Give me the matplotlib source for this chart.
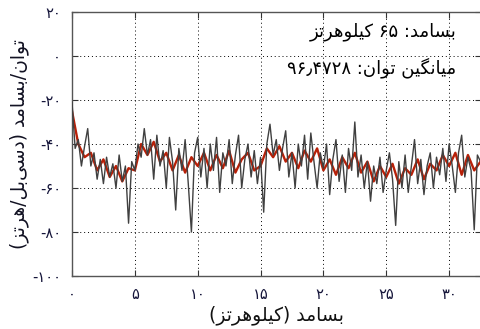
import numpy as np
import matplotlib
matplotlib.use("Agg")
import matplotlib.pyplot as plt

# ---------------- data ----------------
power_db = [
    -21, -42, -38, -50, -41, -33, -50, -44, -56, -47, -58, -46, -55, -49, -60, -45,
    -57, -50, -76, -48, -52, -40, -46, -33, -45, -38, -56, -36, -50, -43, -60, -37,
    -48, -70, -42, -52, -38, -58, -80, -44, -37, -55, -42, -60, -40, -52, -37, -62,
    -44, -50, -38, -58, -45, -36, -60, -47, -40, -55, -43, -58, -46, -71, -40, -31,
    -45, -38, -52, -42, -34, -55, -44, -60, -40, -50, -36, -56, -35, -48, -60, -44,
    -51, -40, -63, -47, -38, -57, -45, -62, -42, -52, -30, -55, -45, -60, -48, -66,
    -50, -58, -46, -62, -52, -44, -56, -77, -48, -60, -45, -62, -50, -38, -58, -47,
    -63, -50, -44, -60, -46, -54, -42, -57, -40, -50, -62, -44, -36, -55, -46, -52,
    -79, -45, -48,
]
smooth_db = [
    -25, -40, -46, -44, -52, -47, -55, -50, -57, -51, -52, -40, -45, -39, -48, -44,
    -52, -45, -53, -46, -50, -44, -52, -45, -51, -43, -53, -47, -44, -52, -50, -42,
    -46, -41, -48, -44, -51, -43, -48, -42, -52, -47, -54, -46, -51, -44, -53, -48,
    -57, -50, -55, -49, -58, -51, -54, -47, -56, -49, -52, -45, -50, -44, -54, -45,
    -52, -48,
]
f_max = 32.5
x_ticks = [0, 5, 10, 15, 20, 25, 30]
y_ticks = [-100, -80, -60, -40, -20, 0, 20]

xlabel_text = "بسامد (کیلوهرتز)"
ylabel_text = "توان/بسامد (دسی‌بل/هرتز)"
note1 = "بسامد: ۶۵ کیلوهرتز"
note2 = "میانگین توان: ۹۶٫۴۷۲۸"

# ---------------- minimal Persian shaping + RTL ordering ----------------
FORMS = {  # isol, fin, init, med
    'ا': (0xFE8D, 0xFE8E, None, None),
    'ب': (0xFE8F, 0xFE90, 0xFE91, 0xFE92),
    'ت': (0xFE95, 0xFE96, 0xFE97, 0xFE98),
    'د': (0xFEA9, 0xFEAA, None, None),
    'ر': (0xFEAD, 0xFEAE, None, None),
    'ز': (0xFEAF, 0xFEB0, None, None),
    'س': (0xFEB1, 0xFEB2, 0xFEB3, 0xFEB4),
    'ل': (0xFEDD, 0xFEDE, 0xFEDF, 0xFEE0),
    'م': (0xFEE1, 0xFEE2, 0xFEE3, 0xFEE4),
    'ن': (0xFEE5, 0xFEE6, 0xFEE7, 0xFEE8),
    'ه': (0xFEE9, 0xFEEA, 0xFEEB, 0xFEEC),
    'و': (0xFEED, 0xFEEE, None, None),
    'ی': (0xFBFC, 0xFBFD, 0xFBFE, 0xFBFF),
    'ک': (0xFB8E, 0xFB8F, 0xFB90, 0xFB91),
    'گ': (0xFB92, 0xFB93, 0xFB94, 0xFB95),
}
DIGITS = set('0123456789۰۱۲۳۴۵۶۷۸۹٫.')


def shape_word(w):
    out = []
    n = len(w)
    for i, ch in enumerate(w):
        if ch not in FORMS:
            continue  # drops ZWNJ, which only breaks joining
        prev = w[i - 1] if i > 0 else None
        nxt = w[i + 1] if i < n - 1 else None
        jp = prev in FORMS and FORMS[prev][2] is not None
        jn = nxt in FORMS and FORMS[ch][2] is not None
        iso, fin, ini, med = FORMS[ch]
        c = med if (jp and jn) else fin if jp else ini if jn else iso
        out.append(chr(c))
    return ''.join(reversed(out))


def rtl(s):
    tokens = []
    i = 0
    while i < len(s):
        ch = s[i]
        if ch in FORMS or ch == '\u200c':
            j = i
            while j < len(s) and (s[j] in FORMS or s[j] == '\u200c'):
                j += 1
            tokens.append(shape_word(s[i:j]))
            i = j
        elif ch in DIGITS:
            j = i
            while j < len(s) and s[j] in DIGITS:
                j += 1
            tokens.append(s[i:j])
            i = j
        else:
            tokens.append({'(': ')', ')': '('}.get(ch, ch))
            i += 1
    return ''.join(reversed(tokens))


def fa_digits(v):
    return str(v).translate(str.maketrans('0123456789', '۰۱۲۳۴۵۶۷۸۹'))


# ---------------- plot ----------------
plt.rcParams['font.family'] = ['DejaVu Sans']
fig = plt.figure(figsize=(4.81, 3.29), dpi=100)
ax = fig.add_axes([72 / 481, 1 - 276 / 329, 1 - 72 / 481 - 0.001, (276 - 12) / 329])

freq = np.linspace(0, f_max, len(power_db))
freq_s = np.linspace(0, f_max, len(smooth_db))
ax.plot(freq_s, smooth_db, color='#b82008', lw=1.7, zorder=2)
ax.plot(freq, power_db, color='#404040', lw=1.0, zorder=3)

ax.set_xlim(0, f_max)
ax.set_ylim(-100, 20)
ax.set_xticks(x_ticks)
ax.set_yticks(y_ticks)
tick_col = '#15153a'
ax.set_xticklabels([fa_digits(v) for v in x_ticks], fontsize=10.5, color=tick_col)
ax.set_yticklabels([fa_digits(v) for v in y_ticks], fontsize=10.5, color=tick_col)
ax.tick_params(direction='in', length=4, width=0.8, top=True, right=True, pad=8,
               colors='#333333', labelcolor=tick_col)
ax.grid(True, color='black', linestyle=(0, (1, 3)), linewidth=0.7)
for sp in ax.spines.values():
    sp.set_color('#555555')
    sp.set_linewidth(1.0)

ax.set_xlabel(rtl(xlabel_text), fontsize=13.5, color='#111111', labelpad=2)
ax.set_ylabel(rtl(ylabel_text), fontsize=13.5, color='#111122', labelpad=2)

ax.text(30.55, 10.9, rtl(note1), ha='right', va='center', fontsize=13, color='black', zorder=5)
ax.text(30.55, -5.5, rtl(note2), ha='right', va='center', fontsize=13, color='black', zorder=5)

fig.savefig('out.png', dpi=100)
